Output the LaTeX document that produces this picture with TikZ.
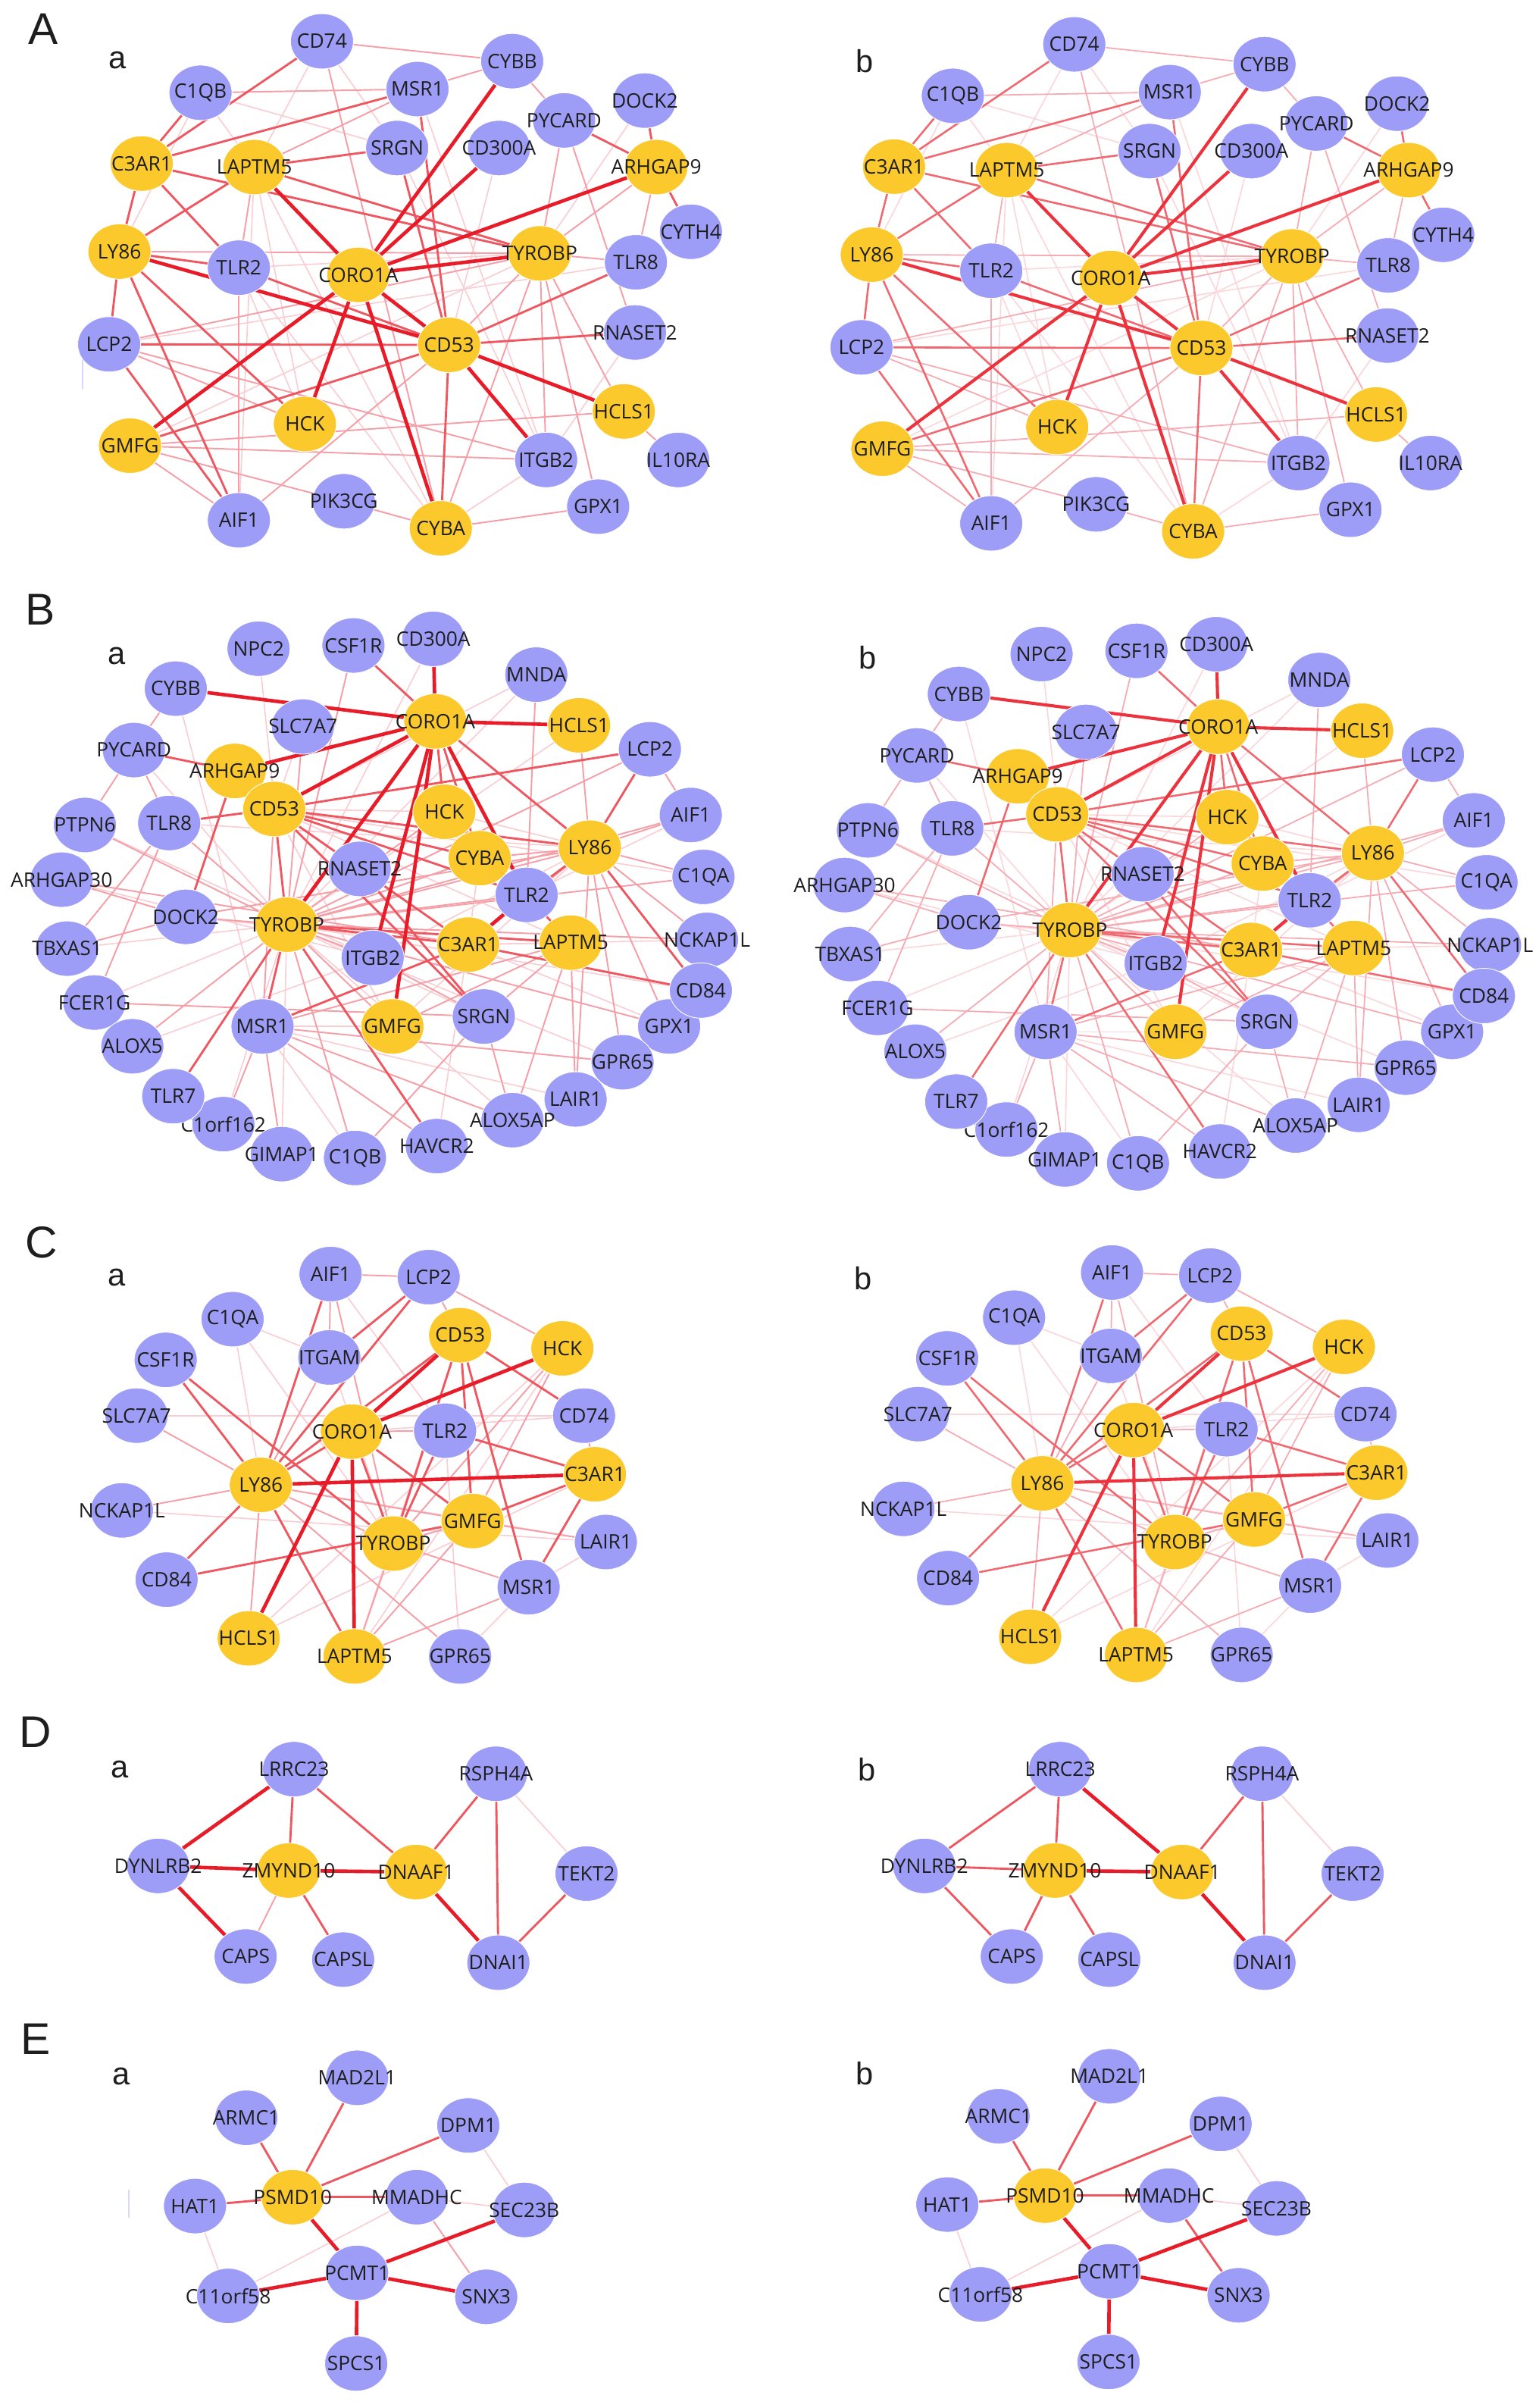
\documentclass[tikz,border=0pt]{standalone}
\usepackage{fontspec}
\setmainfont{Open Sans}
\newfontfamily\panelfont{Liberation Sans}
\usetikzlibrary{shapes.geometric}
\definecolor{pur}{RGB}{157,157,247}
\definecolor{org}{RGB}{251,201,43}
\definecolor{txt}{RGB}{30,30,30}
\definecolor{cS}{RGB}{232,28,40}
\definecolor{cM}{RGB}{238,86,96}
\definecolor{cL}{RGB}{245,160,168}
\definecolor{cV}{RGB}{250,205,210}
\definecolor{cSb}{RGB}{236,50,60}
\definecolor{cMb}{RGB}{240,104,112}
\definecolor{cLb}{RGB}{246,172,180}
\definecolor{cVb}{RGB}{251,214,218}
\pgfdeclarelayer{bg}
\pgfdeclarelayer{edges}
\pgfsetlayers{bg,edges,main}
\tikzset{
  gnode/.style={ellipse, inner sep=0pt, minimum width=0.82cm, minimum height=0.72cm,
    text=txt, font=\fontsize{7.4}{8}\selectfont, draw=white, line width=0.25pt},
  pnode/.style={gnode, fill=pur},
  onode/.style={gnode, fill=org},
  eS/.style={draw=cS, line width=1.3pt},
  eM/.style={draw=cM, line width=0.8pt},
  eL/.style={draw=cL, line width=0.55pt},
  eV/.style={draw=cV, line width=0.45pt},
  bpanel/.style={
    eS/.style={draw=cSb, line width=1.15pt},
    eM/.style={draw=cMb, line width=0.72pt},
    eL/.style={draw=cLb, line width=0.5pt},
    eV/.style={draw=cVb, line width=0.45pt}},
  bigletter/.style={font=\panelfont\fontsize{16.5}{18}\selectfont, text=txt, inner sep=0pt},
  smallletter/.style={font=\panelfont\fontsize{11.7}{13}\selectfont, text=txt, inner sep=0pt},
  artifact/.style={draw=pur!40!white, line width=0.5pt}
}
\newcommand\purnode[2]{\node[pnode] (\pf-#1) at (#2) {\makebox[0pt]{#1}};}
\newcommand\orgnode[2]{\node[onode] (\pf-#1) at (#2) {\makebox[0pt]{#1}};}
\newcommand\links[2]{\foreach \u/\v in {#2}{\draw[#1] (\pf-\u) -- (\pf-\v);}}

% ---------------- Panel A ----------------
\newcommand\panelA{%
 \purnode{CD74}{209.7,26.9}
 \purnode{CYBB}{333.6,39.8}
 \purnode{C1QB}{130.6,60.4}
 \purnode{MSR1}{271.9,58}
 \purnode{DOCK2}{419.9,65.5}
 \purnode{PYCARD}{367.4,78.4}
 \purnode{CD300A}{325,96.4}
 \purnode{SRGN}{258.7,96.4}
 \orgnode{C3AR1}{92.3,106.5}
 \orgnode{LAPTM5}{165.7,108.8}
 \orgnode{ARHGAP9}{427.5,108.8}
 \purnode{CYTH4}{450,150.9}
 \orgnode{LY86}{77.8,163.8}
 \purnode{TLR2}{155.6,174.3}
 \orgnode{CORO1A}{233.4,179}
 \orgnode{TYROBP}{351.6,165}
 \purnode{TLR8}{414.2,170.8}
 \purnode{LCP2}{71.1,224.2}
 \orgnode{CD53}{292.5,224.6}
 \purnode{RNASET2}{413.6,216.5}
 \orgnode{HCLS1}{406.3,267.9}
 \orgnode{HCK}{198.6,276.1}
 \orgnode{GMFG}{84.7,290.2}
 \purnode{ITGB2}{355.7,299.5}
 \purnode{IL10RA}{441.7,299.5}
 \purnode{GPX1}{389.6,329.9}
 \purnode{AIF1}{155.6,338.8}
 \purnode{PIK3CG}{223.9,326.4}
 \orgnode{CYBA}{287.1,344}
 \begin{pgfonlayer}{edges}
 \links{eV}{C1QB/LY86, CD74/LAPTM5, C1QB/LAPTM5, MSR1/ITGB2, CD300A/CD53, SRGN/ITGB2,
   TLR2/TYROBP, LAPTM5/AIF1, LAPTM5/HCK, TLR2/HCK, CYBA/TLR2, CYBA/ITGB2, GMFG/TYROBP,
   RNASET2/ITGB2, DOCK2/TYROBP, LCP2/TLR8, CD74/SRGN, LAPTM5/CYBA, C1QB/SRGN}
 \links{eL}{CYBB/PYCARD, CD74/CYBB, CYBB/MSR1, C1QB/MSR1, MSR1/LAPTM5, TLR2/AIF1, AIF1/CD53,
   GMFG/ITGB2, GMFG/HCLS1, GMFG/AIF1, GMFG/PIK3CG, CYBA/PIK3CG, CYBA/TYROBP, HCLS1/TYROBP,
   ITGB2/TYROBP, GPX1/TYROBP, TYROBP/TLR8, ARHGAP9/TYROBP, PYCARD/RNASET2, PYCARD/TYROBP,
   LY86/TYROBP, LCP2/TYROBP, LCP2/HCK, LAPTM5/TLR2, CD74/CYBA, ARHGAP9/TLR8, TYROBP/CD53,
   LCP2/ITGB2, HCLS1/IL10RA, CYBA/GPX1}
 \links{eM}{CD53/TLR2, CD53/LCP2, CD53/RNASET2, CD53/TLR8, C3AR1/MSR1, C3AR1/CD74, C3AR1/LY86,
   C3AR1/TLR2, C3AR1/C1QB, LAPTM5/TYROBP, LY86/LCP2, LY86/AIF1, LCP2/AIF1, LY86/HCK, GMFG/CD53,
   ARHGAP9/PYCARD, ARHGAP9/CYTH4, ARHGAP9/DOCK2, SRGN/LAPTM5, MSR1/CD53, SRGN/CD53,
   C3AR1/TYROBP, LY86/TLR2, CYBA/CD53, LAPTM5/LY86}
 \links{eS}{CORO1A/CYBB, CORO1A/CD300A, CORO1A/ARHGAP9, CORO1A/TYROBP, CORO1A/GMFG, CORO1A/HCK,
   CORO1A/CYBA, CORO1A/CD53, CORO1A/LAPTM5, CD53/HCLS1, CD53/ITGB2, CD53/LY86}
 \end{pgfonlayer}}

% ---------------- Panel B ----------------
\newcommand\panelB{%
 \purnode{NPC2}{168.4,422.4}
 \purnode{CSF1R}{230.2,420.3}
 \purnode{CD300A}{282.2,416}
 \purnode{MNDA}{349.3,439.3}
 \purnode{CYBB}{114.5,448.4}
 \purnode{SLC7A7}{197.3,473.1}
 \orgnode{CORO1A}{283.5,469.7}
 \orgnode{HCLS1}{377.2,472.3}
 \purnode{PYCARD}{87.2,488.4}
 \orgnode{ARHGAP9}{152.9,502}
 \purnode{LCP2}{423.3,487.9}
 \orgnode{CD53}{178.6,526.8}
 \orgnode{HCK}{289.4,528.6}
 \purnode{TLR8}{110.2,535.9}
 \purnode{PTPN6}{55.3,537.2}
 \purnode{AIF1}{449.9,530.7}
 \orgnode{CYBA}{312.4,558.8}
 \orgnode{LY86}{384.2,552}
 \purnode{RNASET2}{234.2,565.8}
 \purnode{ARHGAP30}{40.1,572.8}
 \purnode{C1QA}{458.2,571}
 \purnode{TLR2}{343,582.7}
 \purnode{DOCK2}{121,597}
 \orgnode{TYROBP}{186.8,602.1}
 \orgnode{C3AR1}{304.9,615.1}
 \orgnode{LAPTM5}{371.7,613.8}
 \purnode{NCKAP1L}{460.5,612}
 \purnode{TBXAS1}{43.7,617.7}
 \purnode{ITGB2}{242.7,623.7}
 \purnode{GPX1}{435.8,668.4}
 \purnode{CD84}{456.5,645}
 \purnode{FCER1G}{61.5,652.8}
 \purnode{MSR1}{171,668.4}
 \orgnode{GMFG}{255.6,668.4}
 \purnode{SRGN}{315.1,661.9}
 \purnode{ALOX5}{86.2,681.3}
 \purnode{GPR65}{405.5,691.7}
 \purnode{C1orf162}{145.5,732}
 \purnode{TLR7}{112.8,713.8}
 \purnode{LAIR1}{374.9,715.9}
 \purnode{ALOX5AP}{333.8,729.4}
 \purnode{GIMAP1}{183.5,751.5}
 \purnode{C1QB}{231.2,754}
 \purnode{HAVCR2}{284.5,746.3}
 \begin{pgfonlayer}{edges}
 \links{eV}{CYBB/MSR1, NPC2/TYROBP, CD300A/TYROBP, MNDA/CD53, MNDA/TYROBP, PYCARD/TYROBP,
   PTPN6/ITGB2, ARHGAP30/ITGB2, TBXAS1/TYROBP, FCER1G/TYROBP, ALOX5/ITGB2, C1orf162/TYROBP,
   GIMAP1/TYROBP, C1QB/MSR1, HAVCR2/C3AR1, ALOX5AP/TYROBP, LAIR1/MSR1, GPR65/TYROBP,
   GPX1/C3AR1, CD84/TYROBP, NCKAP1L/C3AR1, C1QA/CD53, AIF1/TLR2, HCLS1/TYROBP, HCK/LY86,
   CYBA/C3AR1, SLC7A7/CD53, ITGB2/LY86, GMFG/LY86, GMFG/MSR1, DOCK2/C3AR1, TLR8/LY86,
   C3AR1/LAPTM5, CD53/HCK, CD53/LAPTM5, CD53/GMFG, SRGN/TYROBP}
 \links{eL}{CYBB/PYCARD, MNDA/TLR2, PYCARD/PTPN6, PYCARD/TLR8, PTPN6/TYROBP, ARHGAP30/C3AR1,
   ARHGAP30/DOCK2, TBXAS1/TLR8, TBXAS1/DOCK2, FCER1G/TLR8, FCER1G/SRGN, ALOX5/TYROBP,
   C1orf162/MSR1, GIMAP1/MSR1, C1QB/TYROBP, C1QB/SRGN, HAVCR2/MSR1, ALOX5AP/MSR1,
   ALOX5AP/LAPTM5, ALOX5AP/SRGN, LAIR1/LAPTM5, LAIR1/LY86, GPR65/LY86, GPR65/MSR1, GPX1/LY86,
   GPX1/TYROBP, NCKAP1L/LY86, NCKAP1L/TYROBP, C1QA/LY86, C1QA/TYROBP, AIF1/LY86, AIF1/TYROBP,
   AIF1/LCP2, LCP2/TYROBP, HCLS1/LY86, HCK/TYROBP, CYBA/TYROBP, CYBA/LY86, SLC7A7/TYROBP,
   RNASET2/CD53, ITGB2/TYROBP, ITGB2/SRGN, GMFG/TYROBP, GMFG/LAPTM5, SRGN/LAPTM5, MSR1/LAPTM5,
   MSR1/CD53, DOCK2/TYROBP, DOCK2/LY86, TLR8/TYROBP, C3AR1/LY86, TYROBP/LY86, TYROBP/TLR2,
   CSF1R/TYROBP}
 \links{eM}{CORO1A/CSF1R, CORO1A/HCK, CORO1A/CYBA, CORO1A/LY86, PYCARD/ARHGAP9, ARHGAP9/DOCK2,
   TLR8/CD53, CD53/LCP2, CD53/LY86, CD53/CYBA, CD53/TYROBP, CD53/TLR2, CD53/SRGN, CD53/C3AR1,
   TYROBP/C3AR1, TYROBP/LAPTM5, TYROBP/TLR7, TYROBP/HAVCR2, TYROBP/MSR1, TLR2/LAPTM5,
   TLR2/LY86, LY86/CD84, LY86/LCP2, C3AR1/CD84, MSR1/C3AR1, RNASET2/SRGN}
 \links{eS}{CORO1A/CYBB, CORO1A/CD300A, CORO1A/HCLS1, CORO1A/ARHGAP9, CORO1A/CD53,
   CORO1A/TYROBP, CORO1A/ITGB2, CORO1A/GMFG, CORO1A/TLR2, TLR2/C3AR1}
 \end{pgfonlayer}}

% ---------------- Panel C ----------------
\newcommand\panelC{%
 \purnode{AIF1}{215.3,829.6}
 \purnode{LCP2}{279.2,831.6}
 \purnode{C1QA}{151.5,859}
 \orgnode{CD53}{299.7,869.4}
 \orgnode{HCK}{366.3,878}
 \purnode{CSF1R}{107.9,885.5}
 \purnode{ITGAM}{214.5,883.9}
 \purnode{SLC7A7}{88.9,921.8}
 \orgnode{CORO1A}{229.2,932.2}
 \purnode{TLR2}{289.9,931.6}
 \purnode{CD74}{380.4,921.8}
 \orgnode{LY86}{169.9,966.9}
 \orgnode{C3AR1}{387.5,960}
 \purnode{NCKAP1L}{79.4,983.5}
 \orgnode{GMFG}{307.8,990.4}
 \orgnode{TYROBP}{256.1,1005.1}
 \purnode{LAIR1}{394.6,1004.1}
 \purnode{CD84}{108.5,1028.6}
 \purnode{MSR1}{344.3,1033.5}
 \orgnode{HCLS1}{162,1066.8}
 \orgnode{LAPTM5}{230.9,1078.6}
 \purnode{GPR65}{299.7,1078.6}
 \begin{pgfonlayer}{edges}
 \links{eV}{SLC7A7/CD74, C1QA/ITGAM, C1QA/TYROBP, NCKAP1L/LAIR1, AIF1/TLR2, ITGAM/TYROBP,
   CORO1A/CD74, GPR65/MSR1, HCK/LAPTM5, HCLS1/C3AR1, HCLS1/HCK, CD53/LAPTM5, LY86/LAIR1,
   GPR65/TLR2, LAIR1/MSR1, LY86/C1QA}
 \links{eL}{AIF1/LCP2, LCP2/HCK, LCP2/CD53, LY86/HCLS1, LY86/GPR65, LY86/NCKAP1L, LY86/SLC7A7,
   LY86/ITGAM, LY86/TYROBP, LY86/GMFG, TYROBP/LAPTM5, TYROBP/HCK, GMFG/LAIR1, GMFG/HCK,
   LAPTM5/MSR1, LAPTM5/GMFG, AIF1/TYROBP, AIF1/ITGAM, CD74/C3AR1, TYROBP/MSR1, GMFG/TYROBP,
   CORO1A/TLR2}
 \links{eM}{CORO1A/TYROBP, CORO1A/GMFG, CD84/GMFG, TLR2/C3AR1, GMFG/C3AR1, C3AR1/MSR1,
   CD53/CD74, CD53/MSR1, LY86/CD84, LY86/CSF1R, CSF1R/TYROBP, LY86/LCP2, ITGAM/LCP2,
   LY86/LAPTM5, LY86/AIF1, LY86/CORO1A, TYROBP/CD53, TYROBP/TLR2, GMFG/CD53, LY86/CD53}
 \links{eS}{CORO1A/CD53, CORO1A/HCK, CORO1A/HCLS1, CORO1A/LAPTM5, LY86/C3AR1}
 \end{pgfonlayer}}

% ---------------- Panel D ----------------
\newcommand\panelD{%
 \purnode{LRRC23}{191.5,1152}
 \purnode{RSPH4A}{323,1155}
 \purnode{DYNLRB2}{103,1215}
 \orgnode{ZMYND10}{188,1218}
 \orgnode{DNAAF1}{271,1219}
 \purnode{TEKT2}{382,1220}
 \purnode{CAPS}{160,1274}
 \purnode{CAPSL}{223.5,1276}
 \purnode{DNAI1}{324.6,1278}}

% ---------------- Panel E ----------------
\newcommand\panelE{%
 \purnode{MAD2L1}{232.6,1353}
 \purnode{ARMC1}{160.4,1379}
 \purnode{DPM1}{305,1384}
 \purnode{HAT1}{127,1436.5}
 \orgnode{PSMD10}{190.6,1430.7}
 \purnode{MMADHC}{271.4,1430.7}
 \purnode{SEC23B}{341.4,1439}
 \purnode{PCMT1}{232.6,1480}
 \purnode{C11orf58}{148.6,1495}
 \purnode{SNX3}{316.7,1495.6}
 \purnode{SPCS1}{232,1539}}

\begin{document}
\begin{tikzpicture}[x=0.02cm,y=-0.02cm]
\begin{pgfonlayer}{bg}
 \fill[white] (0,0) rectangle (1002,1568);
\end{pgfonlayer}
\path[use as bounding box] (0,0) rectangle (1002,1568);

% panel letters
\node[bigletter] (LA) at (28,19) {A};
\node[bigletter] (LB) at (26.3,397) {B};
\node[bigletter] (LC) at (27,809) {C};
\node[bigletter] (LD) at (23,1128) {D};
\node[bigletter] (LE) at (23,1328) {E};
\node[smallletter] (La1) at (76.6,39) {a};
\node[smallletter] (Lb1) at (563.4,40) {b};
\node[smallletter] (La2) at (76,427) {a};
\node[smallletter] (Lb2) at (565,428) {b};
\node[smallletter] (La3) at (76,832) {a};
\node[smallletter] (Lb3) at (562,832.6) {b};
\node[smallletter] (La4) at (78,1152) {a};
\node[smallletter] (Lb4) at (564.8,1152) {b};
\node[smallletter] (La5) at (79,1352) {a};
\node[smallletter] (Lb5) at (563,1350) {b};

% faint artefact strokes
\coordinate (art1a) at (53.8,234); \coordinate (art1b) at (53.8,253);
\coordinate (art2a) at (84,1426); \coordinate (art2b) at (84,1444);
\draw[artifact] (art1a) -- (art1b);
\draw[artifact] (art2a) -- (art2b);

% A
\def\pf{Aa}\panelA
\def\pf{Ab}\begin{scope}[shift={(490,2)},bpanel]\panelA\end{scope}
% B
\def\pf{Ba}\panelB
\def\pf{Bb}\begin{scope}[shift={(510,3.5)},bpanel]\panelB\end{scope}
% C
\def\pf{Ca}\panelC
\def\pf{Cb}\begin{scope}[shift={(509,-1)},bpanel]\panelC\end{scope}
% D
\def\pf{Da}\panelD
\begin{pgfonlayer}{edges}
 \links{eV}{RSPH4A/TEKT2}
 \links{eL}{ZMYND10/CAPS}
 \links{eM}{LRRC23/DNAAF1, ZMYND10/CAPSL, LRRC23/ZMYND10, DNAAF1/RSPH4A, RSPH4A/DNAI1, TEKT2/DNAI1}
 \links{eS}{LRRC23/DYNLRB2, DYNLRB2/ZMYND10, ZMYND10/DNAAF1, DYNLRB2/CAPS, DNAAF1/DNAI1}
\end{pgfonlayer}
\def\pf{Db}\begin{scope}[shift={(499,0)}]\panelD
\begin{pgfonlayer}{edges}
 \links{eV}{RSPH4A/TEKT2}
 \links{eM}{LRRC23/DYNLRB2, DYNLRB2/ZMYND10, DYNLRB2/CAPS, ZMYND10/CAPSL, ZMYND10/CAPS,
   LRRC23/ZMYND10, DNAAF1/RSPH4A, RSPH4A/DNAI1, TEKT2/DNAI1}
 \links{eS}{ZMYND10/DNAAF1, DNAAF1/DNAI1, LRRC23/DNAAF1}
\end{pgfonlayer}
\end{scope}
% E
\def\pf{Ea}\panelE
\begin{pgfonlayer}{edges}
 \links{eV}{MMADHC/SEC23B, MMADHC/C11orf58, DPM1/SEC23B, HAT1/C11orf58}
 \links{eL}{MMADHC/SNX3}
 \links{eM}{PSMD10/ARMC1, PSMD10/MAD2L1, PSMD10/DPM1, PSMD10/HAT1, PSMD10/MMADHC}
 \links{eS}{PCMT1/SEC23B, PCMT1/C11orf58, PCMT1/SNX3, PCMT1/SPCS1, PSMD10/PCMT1}
\end{pgfonlayer}
\def\pf{Eb}\begin{scope}[shift={(490,-1)}]\panelE
\begin{pgfonlayer}{edges}
 \links{eV}{MMADHC/SEC23B, MMADHC/C11orf58, DPM1/SEC23B, HAT1/C11orf58}
 \links{eM}{PSMD10/ARMC1, PSMD10/MAD2L1, PSMD10/DPM1, PSMD10/HAT1, PSMD10/MMADHC, MMADHC/SNX3}
 \links{eS}{PCMT1/SEC23B, PCMT1/C11orf58, PCMT1/SNX3, PCMT1/SPCS1, PSMD10/PCMT1}
\end{pgfonlayer}
\end{scope}
\end{tikzpicture}
\end{document}
